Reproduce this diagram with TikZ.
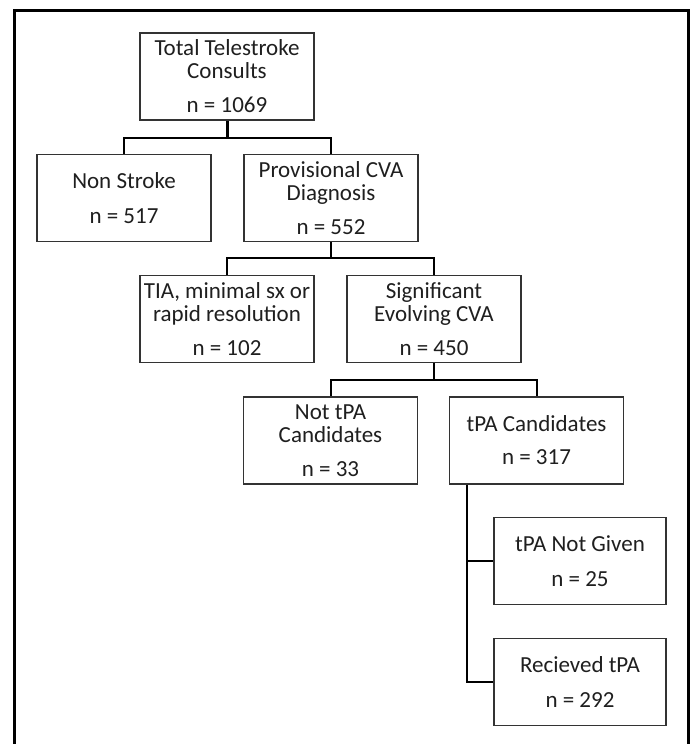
\documentclass[tikz,border=0pt]{standalone}
\usepackage{fontspec}
\setmainfont{Carlito}
\begin{document}
\begin{tikzpicture}[x=1pt,y=-1pt,
  box/.style={draw=black!80, line width=1.3pt, fill=white, inner sep=0pt,
    minimum width=174pt, minimum height=87pt, align=center,
    text=black!88, font=\fontsize{23}{23}\selectfont},
  conn/.style={draw=black, line width=2pt},
  frame/.style={draw=black, line width=3pt}]
\useasboundingbox (0,0) rectangle (694,744);
% frame (open at bottom)
\draw[frame] (14,746) -- (14,10) -- (688,10) -- (688,746);
% boxes
\node[box] (total) at (227,76.5) {Total Telestroke\\Consults\\[11pt]n = 1069};
\node[box] (nonstroke) at (124,198) {Non Stroke\\[12pt]n = 517};
\node[box] (prov) at (331,198) {Provisional CVA\\Diagnosis\\[11pt]n = 552};
\node[box] (tia) at (227,319) {TIA, minimal sx or\\rapid resolution\\[11pt]n = 102};
\node[box] (sig) at (434,319) {Significant\\Evolving CVA\\[11pt]n = 450};
\node[box] (nottpa) at (330.5,440.5) {Not tPA\\Candidates\\[11pt]n = 33};
\node[box] (tpac) at (536.5,440.5) {tPA Candidates\\[10pt]n = 317};
\node[box, minimum width=172pt] (notgiven) at (580,561) {tPA Not Given\\[12pt]n = 25};
\node[box, minimum width=172pt] (recv) at (580,682) {Recieved tPA\\[12pt]n = 292};
% connectors
\draw[conn, line width=3pt] (total.south) -- ++(0,17) coordinate (j1);
\draw[conn] (j1) -| (nonstroke.north);
\draw[conn] (j1) -| (prov.north);
\draw[conn] (prov.south) -- ++(0,16) coordinate (j2);
\draw[conn] (j2) -| (tia.north);
\draw[conn] (j2) -| (sig.north);
\draw[conn] (sig.south) -- ++(0,17) coordinate (j3);
\draw[conn] (j3) -| (nottpa.north);
\draw[conn] (j3) -| (tpac.north);
\coordinate (t0) at ([xshift=18pt]tpac.south west);
\draw[conn] (t0) |- (recv.west);
\draw[conn] (t0 |- notgiven.west) -- (notgiven.west);
\end{tikzpicture}
\end{document}
